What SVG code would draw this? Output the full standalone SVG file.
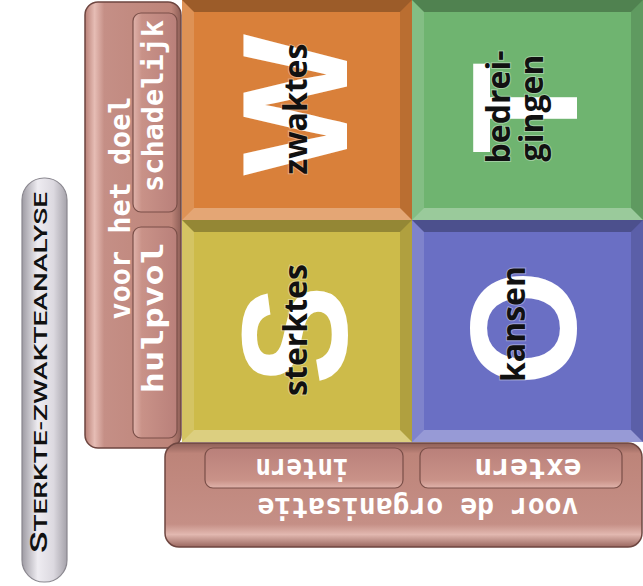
<svg xmlns="http://www.w3.org/2000/svg" width="643" height="586" viewBox="0 0 643 586">
<defs>
<linearGradient id="gPill" x1="0" y1="0" x2="1" y2="0">
<stop offset="0" stop-color="#9e9ba3"/><stop offset="0.35" stop-color="#eeecf1"/><stop offset="0.7" stop-color="#dcd9e0"/><stop offset="1" stop-color="#a5a2aa"/>
</linearGradient>
<linearGradient id="gLeft" x1="0" y1="0" x2="1" y2="0">
<stop offset="0" stop-color="#b98077"/><stop offset="0.1" stop-color="#e6bdb5"/><stop offset="0.2" stop-color="#c58f86"/><stop offset="0.9" stop-color="#bd8479"/><stop offset="1" stop-color="#8e5f57"/>
</linearGradient>
<linearGradient id="gBottom" x1="0" y1="1" x2="0" y2="0">
<stop offset="0" stop-color="#9a675f"/><stop offset="0.12" stop-color="#e2b8b0"/><stop offset="0.22" stop-color="#c58f86"/><stop offset="0.9" stop-color="#bd8479"/><stop offset="1" stop-color="#8e5f57"/>
</linearGradient>
<linearGradient id="gSubL" x1="0" y1="0" x2="1" y2="0">
<stop offset="0" stop-color="#e0b3ab"/><stop offset="0.2" stop-color="#c99288"/><stop offset="1" stop-color="#b9807a"/>
</linearGradient>
<linearGradient id="gSubB" x1="0" y1="1" x2="0" y2="0">
<stop offset="0" stop-color="#e0b3ab"/><stop offset="0.2" stop-color="#c99288"/><stop offset="1" stop-color="#b9807a"/>
</linearGradient>
</defs>
<style>
.shTop{fill:#000;opacity:.28}
.shRight{fill:#000;opacity:.14}
.hiLeft{fill:#fff;opacity:.14}
.hiBot{fill:#fff;opacity:.3}
.big{font-family:"Liberation Sans",Arial,sans-serif;font-weight:bold;font-size:150px;fill:#fff;text-anchor:middle}
.lbl{font-family:"Open Sans","Noto Sans",sans-serif;font-weight:bold;font-size:32px;fill:#111;text-anchor:middle;stroke:#fff;stroke-opacity:.35;stroke-width:2;paint-order:stroke}
.bar{stroke:#6e4640;stroke-width:1.5}
.sub{stroke:#7a4f48;stroke-width:1.2}
.wt{font-family:"DejaVu Sans Mono","Liberation Mono",monospace;font-weight:bold;font-size:28px;fill:#fff;text-anchor:middle}
.title{font-family:Roboto,"Liberation Sans",Arial,sans-serif;font-weight:500;fill:#111}
</style>

<g id="tile-w">
<rect x="182" y="0" width="230" height="220" fill="#d9803a"/>
<polygon class="shTop" points="182,0 412,0 400,12 194,12"/>
<polygon class="hiBot" points="182,220 412,220 400,208 194,208"/>
<polygon class="hiLeft" points="182,0 194,12 194,208 182,220"/>
<polygon class="shRight" points="412,0 400,12 400,208 412,220"/>
<text class="big" transform="translate(347,105) rotate(-90)">W</text>
<text class="lbl" transform="translate(307,109) rotate(-90)">zwaktes</text>
</g>

<g id="tile-t">
<rect x="412" y="0" width="231" height="220" fill="#6fb470"/>
<polygon class="shTop" points="412,0 643,0 631,12 424,12"/>
<polygon class="hiBot" points="412,220 643,220 631,208 424,208"/>
<polygon class="hiLeft" points="412,0 424,12 424,208 412,220"/>
<polygon class="shRight" points="643,0 631,12 631,208 643,220"/>
<text class="big" transform="translate(577,108) rotate(-90)">T</text>
<text class="lbl" transform="translate(510,107) rotate(-90)">bedrei-</text>
<text class="lbl" transform="translate(543,108) rotate(-90)">gingen</text>
</g>

<g id="tile-s">
<rect x="182" y="220" width="230" height="222" fill="#cdbb4a"/>
<polygon class="shTop" points="182,220 412,220 400,232 194,232"/>
<polygon class="hiBot" points="182,442 412,442 400,430 194,430"/>
<polygon class="hiLeft" points="182,220 194,232 194,430 182,442"/>
<polygon class="shRight" points="412,220 400,232 400,430 412,442"/>
<text class="big" transform="translate(347,335) rotate(-90)" font-size="145">S</text>
<text class="lbl" transform="translate(307,330) rotate(-90)">sterktes</text>
</g>

<g id="tile-o">
<rect x="412" y="220" width="231" height="222" fill="#6a6fc4"/>
<polygon class="shTop" points="412,220 643,220 631,232 424,232"/>
<polygon class="hiBot" points="412,442 643,442 631,430 424,430"/>
<polygon class="hiLeft" points="412,220 424,232 424,430 412,442"/>
<polygon class="shRight" points="643,220 631,232 631,430 643,442"/>
<text class="big" transform="translate(576,328) rotate(-90)" font-size="140">O</text>
<text class="lbl" transform="translate(525,324) rotate(-90)">kansen</text>
</g>

<g id="bar-doel">
<rect class="bar" x="85" y="2" width="96" height="446" rx="13" fill="url(#gLeft)"/>
<text class="wt" transform="translate(130,208) rotate(-90)" textLength="223" lengthAdjust="spacingAndGlyphs">voor het doel</text>
</g>
<g id="box-schadelijk">
<rect class="sub" x="133" y="13" width="44" height="199" rx="8" fill="url(#gSubL)"/>
<text class="wt" transform="translate(163,106) rotate(-90)" textLength="172" lengthAdjust="spacingAndGlyphs">schadelijk</text>
</g>
<g id="box-hulpvol">
<rect class="sub" x="133" y="227" width="44" height="211" rx="8" fill="url(#gSubL)"/>
<text class="wt" transform="translate(163,318) rotate(-90)" textLength="151" lengthAdjust="spacingAndGlyphs">hulpvol</text>
</g>

<g id="bar-organisatie">
<rect class="bar" x="165" y="443" width="477" height="104" rx="14" fill="url(#gBottom)"/>
<text class="wt" transform="translate(418,498) rotate(180)" textLength="321" lengthAdjust="spacingAndGlyphs">voor de organisatie</text>
</g>
<g id="box-intern">
<rect class="sub" x="205" y="448" width="198" height="40" rx="8" fill="url(#gSubB)"/>
<text class="wt" transform="translate(302,459) rotate(180)" textLength="93" lengthAdjust="spacingAndGlyphs">intern</text>
</g>
<g id="box-extern">
<rect class="sub" x="420" y="448" width="202" height="40" rx="8" fill="url(#gSubB)"/>
<text class="wt" transform="translate(528,459) rotate(180)" textLength="107" lengthAdjust="spacingAndGlyphs">extern</text>
</g>

<g id="title">
<rect x="22" y="178" width="45" height="404" rx="22" fill="url(#gPill)" stroke="#8a878f" stroke-width="1.2"/>
<text class="title" transform="translate(47,553) rotate(-90)" textLength="361" lengthAdjust="spacingAndGlyphs"><tspan font-size="24">S</tspan><tspan font-size="19">TERKTE-ZWAKTEANALYSE</tspan></text>
</g>

<g id="connectors"/>
</svg>
